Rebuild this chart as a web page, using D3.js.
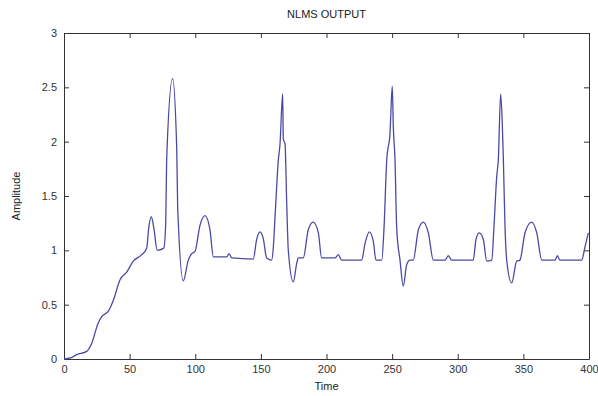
<!DOCTYPE html>
<html lang="en">
<head>
    <meta charset="UTF-8">
    <title>NLMS OUTPUT</title>
    <script src="https://d3js.org/d3.v7.min.js"></script>
    <style>
        body { margin: 0; background: #fff; }
        .line { fill: none; stroke: #4a4aa6; stroke-width: 1.3; }
        .axis text { font-family: "Liberation Sans", Arial, sans-serif; font-size: 11px; fill: #333; }
        .axis path, .axis line { stroke: #333; }
        .label { font-family: "Liberation Sans", Arial, sans-serif; font-size: 11px; fill: #222; }
    </style>
</head>
<body>
    <div id="chart"></div>
    <script type="text/javascript">
        // values
        const timeSamples = [0, 5, 9.7, 17.3, 21, 26, 28.7, 33.8, 37.6, 42.7, 47.8, 52.8, 59.2, 63, 64.5, 66.5, 68.5, 71, 76,
            77.5, 78.2, 82.7, 85.9, 86.6, 90.9, 94.7, 97.3, 99.8, 103.6, 107.4, 111.2, 113.8, 124, 125.7, 127.8,
            144.2, 146.8, 149.3, 151.8, 154.4, 158.2, 159.5, 160.8, 163.3, 164.6, 166.6, 167.1, 168.4, 169.7, 170.9,
            174.7, 177.3, 178.5, 182.3, 186.1, 189.9, 193.8, 196.3, 206.5, 209, 211.6, 226.8, 229.3, 232.6, 235.7,
            237.7, 242.1, 243.8, 245.9, 248.4, 250.1, 250.9, 252.2, 253.5, 256, 258.5, 261.1, 263.6, 266.1, 270,
            273.8, 277.6, 281.4, 290.3, 292.8, 295.4, 311.8, 313.9, 316.4, 319.5, 322.1, 325.9, 327.6, 329.7, 330.9,
            332.7, 334, 334.7, 336, 337.3, 341.1, 344.9, 347.4, 351.2, 356.3, 360.2, 364, 374.1, 375.9, 377.9,
            394.4, 396.9, 399.5];
        const amplitudeValues = [0, 0.01, 0.04, 0.07, 0.14, 0.33, 0.39, 0.44, 0.54, 0.73, 0.80, 0.90, 0.96, 1.02, 1.2, 1.31, 1.2, 1.0, 1.02,
            1.25, 1.83, 2.58, 1.93, 1.4, 0.72, 0.91, 0.97, 0.99, 1.23, 1.32, 1.19, 0.94, 0.94, 0.97, 0.93,
            0.92, 1.10, 1.17, 1.11, 0.93, 0.91, 1.03, 1.31, 1.83, 1.98, 2.44, 2.02, 1.98, 1.43, 1.0,
            0.71, 0.88, 0.93, 0.93, 1.19, 1.26, 1.16, 0.93, 0.93, 0.96, 0.91, 0.91, 1.06, 1.17, 1.08,
            0.91, 0.91, 1.20, 1.83, 2.08, 2.51, 2.14, 1.83, 1.20, 0.91, 0.67, 0.87, 0.91, 0.91, 1.19,
            1.26, 1.16, 0.91, 0.91, 0.95, 0.91, 0.91, 1.10, 1.16, 1.10, 0.90, 0.91, 1.22, 1.68, 1.83,
            2.44, 2.14, 1.86, 1.22, 0.91, 0.70, 0.90, 0.91, 1.16, 1.26, 1.16, 0.91, 0.91, 0.95, 0.91,
            0.91, 1.03, 1.16];
        const xTicks = [0, 50, 100, 150, 200, 250, 300, 350, 400];
        const yTicks = [0, 0.5, 1, 1.5, 2, 2.5, 3];
        const yTickLabels = ["0", "0.5", "1", "1.5", "2", "2.5", "3"];
        const chartTitle = "NLMS OUTPUT";
        const xTitle = "Time";
        const yTitle = "Amplitude";

        const data = timeSamples.map((t, i) => ({ t: t, v: amplitudeValues[i] }));

        const margin = {top: 33, right: 9, bottom: 37, left: 64},
            width = 598 - margin.left - margin.right,
            height = 396 - margin.top - margin.bottom;

        const x = d3.scaleLinear().domain([0, 400]).range([0, width]);
        const y = d3.scaleLinear().domain([0, 3]).range([height, 0]);

        const svg = d3.select("#chart").append("svg")
            .attr("width", 598)
            .attr("height", 396)
            .append("g")
            .attr("transform", "translate(" + margin.left + "," + margin.top + ")");

        const line = d3.line()
            .x(d => x(d.t))
            .y(d => y(d.v))
            .curve(d3.curveMonotoneX);

        // axes, ticks pointing inward, mirrored on top and right (box on)
        svg.append("g")
            .attr("class", "axis")
            .attr("transform", "translate(0," + height + ")")
            .call(d3.axisBottom(x).tickValues(xTicks).tickSizeInner(-5).tickSizeOuter(0).tickPadding(6));

        svg.append("g")
            .attr("class", "axis")
            .call(d3.axisLeft(y).tickValues(yTicks).tickFormat((d, i) => yTickLabels[i]).tickSizeInner(-5).tickSizeOuter(0).tickPadding(7));

        svg.append("g")
            .attr("class", "axis")
            .call(d3.axisTop(x).tickValues(xTicks).tickSizeInner(-5).tickSizeOuter(0).tickFormat(""));

        svg.append("g")
            .attr("class", "axis")
            .attr("transform", "translate(" + width + ",0)")
            .call(d3.axisRight(y).tickValues(yTicks).tickSizeInner(-5).tickSizeOuter(0).tickFormat(""));

        svg.append("path")
            .datum(data)
            .attr("class", "line")
            .attr("d", line);

        svg.append("text")
            .attr("class", "label")
            .attr("x", width / 2)
            .attr("y", -15)
            .attr("text-anchor", "middle")
            .text(chartTitle);

        svg.append("text")
            .attr("class", "label")
            .attr("x", width / 2)
            .attr("y", height + 31)
            .attr("text-anchor", "middle")
            .text(xTitle);

        svg.append("text")
            .attr("class", "label")
            .attr("transform", "translate(-44," + (height / 2) + ") rotate(-90)")
            .attr("text-anchor", "middle")
            .text(yTitle);
    </script>
</body>
</html>
